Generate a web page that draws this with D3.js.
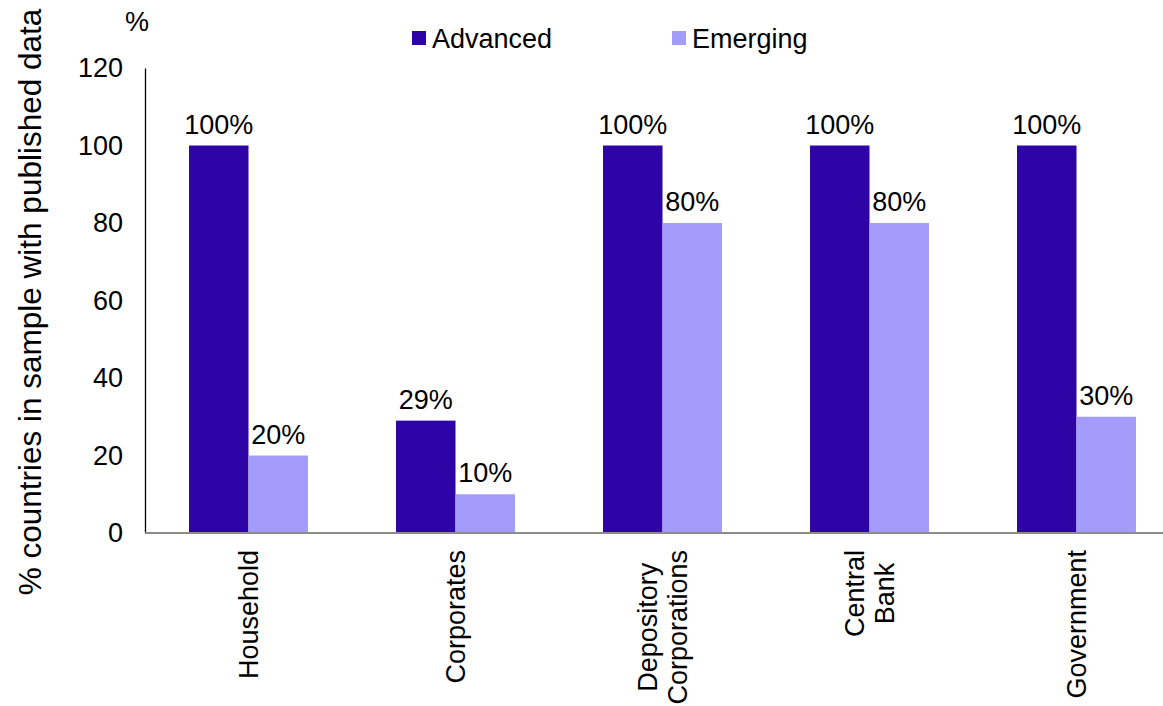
<!DOCTYPE html>
<html>
<head>
<meta charset="utf-8">
<script src="https://cdn.jsdelivr.net/npm/d3@7"></script>
<style>
  body { margin: 0; background: #fff; }
  text { font-family: "Liberation Sans", Arial, sans-serif; fill: #000; }
</style>
</head>
<body>
<svg id="chart" width="1163" height="706"></svg>
<script>
// data
var categories = [["Household"], ["Corporates"], ["Depository", "Corporations"], ["Central", "Bank"], ["Government"]];
var series = ["Advanced", "Emerging"];
var advanced = [100, 29, 100, 100, 100];
var emerging = [20, 10, 80, 80, 30];
var yTicks = [0, 20, 40, 60, 80, 100, 120];

var colors = {Advanced: "#2e04a6", Emerging: "#a49cfa"};

var svg = d3.select("#chart");
var fs = 27;

var x0 = d3.scaleBand()
  .domain(d3.range(categories.length))
  .range([145, 1180]);

var x1 = d3.scaleBand()
  .domain(series)
  .range([0, x0.bandwidth()])
  .paddingOuter(0.74);

var y = d3.scaleLinear()
  .domain([0, 120])
  .range([533, 68]);

// y axis
var yAxis = svg.append("g")
  .attr("transform", "translate(145,0)")
  .call(d3.axisLeft(y).tickValues(yTicks).tickSize(0).tickPadding(22));
yAxis.select(".domain").attr("stroke", "#000").attr("stroke-width", 1.3);
yAxis.selectAll("text")
  .style("font-size", fs + "px")
  .style("font-family", "Liberation Sans, Arial, sans-serif");

svg.append("text")
  .attr("x", 137).attr("y", 31)
  .attr("text-anchor", "middle")
  .style("font-size", fs + "px")
  .text("%");

svg.append("text")
  .attr("transform", "translate(41,302) rotate(-90)")
  .attr("text-anchor", "middle")
  .style("font-size", "31.5px")
  .text("% countries in sample with published data");

// bars
var rows = categories.map(function (c, i) {
  return {i: i, vals: [{s: "Advanced", v: advanced[i]}, {s: "Emerging", v: emerging[i]}]};
});

var grp = svg.selectAll(".grp")
  .data(rows)
  .enter().append("g")
  .attr("transform", function (d) { return "translate(" + x0(d.i) + ",0)"; });

grp.selectAll("rect")
  .data(function (d) { return d.vals; })
  .enter().append("rect")
  .attr("x", function (d) { return x1(d.s); })
  .attr("width", x1.bandwidth())
  .attr("y", function (d) { return y(d.v); })
  .attr("height", function (d) { return y(0) - y(d.v); })
  .attr("fill", function (d) { return colors[d.s]; });

grp.selectAll(".lbl")
  .data(function (d) { return d.vals; })
  .enter().append("text")
  .attr("x", function (d) { return x1(d.s) + x1.bandwidth() / 2; })
  .attr("y", function (d) { return y(d.v) - 12; })
  .attr("text-anchor", "middle")
  .style("font-size", fs + "px")
  .text(function (d) { return d.v + "%"; });

// x axis line
svg.append("line")
  .attr("x1", 145).attr("x2", 1163)
  .attr("y1", y(0)).attr("y2", y(0))
  .attr("stroke", "#8c8c8c").attr("stroke-width", 2);

// category labels, rotated, top-aligned block
categories.forEach(function (lines, i) {
  var cx = x0(i) + x0.bandwidth() / 2;
  var g = svg.append("g");
  var texts = lines.map(function (l, k) {
    return g.append("text")
      .attr("text-anchor", "middle")
      .style("font-size", fs + "px")
      .text(l);
  });
  var maxLen = d3.max(texts, function (t) { return t.node().getComputedTextLength(); });
  var cy = 550 + maxLen / 2;
  var n = lines.length;
  texts.forEach(function (t, k) {
    var lx = cx + (k - (n - 1) / 2) * 30 + 9;
    t.attr("transform", "translate(" + lx + "," + cy + ") rotate(-90)");
  });
});

// legend
var leg = svg.append("g");
[{s: "Advanced", x: 412}, {s: "Emerging", x: 672}].forEach(function (d) {
  leg.append("rect")
    .attr("x", d.x).attr("y", 31)
    .attr("width", 14).attr("height", 14)
    .attr("fill", colors[d.s]);
  leg.append("text")
    .attr("x", d.x + 20).attr("y", 48)
    .style("font-size", fs + "px")
    .text(d.s);
});
</script>
</body>
</html>
